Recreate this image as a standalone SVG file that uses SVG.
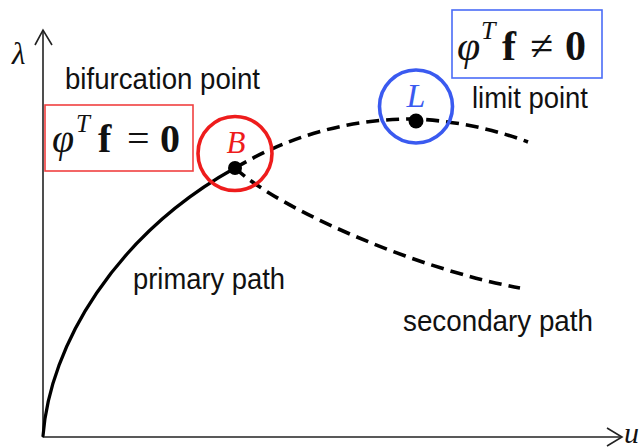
<svg xmlns="http://www.w3.org/2000/svg" width="643" height="448" viewBox="0 0 643 448">
<style>
.ax{fill:none;stroke:#222;stroke-width:1.6}
.lbl{font-family:"Liberation Sans",Arial,sans-serif;font-size:29px;fill:#111}
.math{font-family:"Liberation Serif","Times New Roman",serif;fill:#111}
.it{font-style:italic}
.bd{font-weight:bold}
.solid{fill:none;stroke:#000;stroke-width:3.2;stroke-linecap:round}
.dash{fill:none;stroke:#000;stroke-width:3.6;stroke-dasharray:13 7}
.dot{fill:#000}
</style>
<rect width="643" height="448" fill="#fff"/>
<g id="axes">
  <line class="ax" x1="43" y1="437" x2="43" y2="30"/>
  <polyline class="ax" points="35,45 43,30 52,45"/>
  <line class="ax" x1="43" y1="437" x2="622" y2="437"/>
  <polyline class="ax" points="607,428 622,437 607,446"/>
  <text class="math it" x="12" y="64" font-size="31">λ</text>
  <text class="math it" x="624" y="443" font-size="30">u</text>
</g>
<g id="connectors">
  <path class="solid" d="M43,436 C50,345 115,235 235,168"/>
  <path class="dash" d="M235,168 C280,210 420,270 520,288"/>
  <path class="dash" d="M235,168 Q320,118 416,119 Q475,122 528,142"/>
</g>
<g id="node-B">
  <circle cx="235" cy="153.5" r="37" fill="none" stroke="#ee1c1c" stroke-width="3.6"/>
  <circle class="dot" cx="235" cy="168" r="7"/>
  <text class="math it" x="236" y="153" font-size="31" style="fill:#ee1c1c" text-anchor="middle">B</text>
</g>
<g id="node-L">
  <circle cx="416" cy="106.5" r="36.5" fill="none" stroke="#3a5af0" stroke-width="3.6"/>
  <circle class="dot" cx="416" cy="121" r="7.5"/>
  <text class="math it" x="416" y="107" font-size="34" style="fill:#3a5af0" text-anchor="middle">L</text>
</g>
<g id="label-bifurcation">
  <text class="lbl" x="65" y="89" textLength="195" lengthAdjust="spacingAndGlyphs">bifurcation point</text>
</g>
<g id="label-limit">
  <text class="lbl" x="472" y="108" textLength="116" lengthAdjust="spacingAndGlyphs">limit point</text>
</g>
<g id="label-primary">
  <text class="lbl" x="133" y="289" textLength="152" lengthAdjust="spacingAndGlyphs">primary path</text>
</g>
<g id="label-secondary">
  <text class="lbl" x="403" y="331" textLength="190" lengthAdjust="spacingAndGlyphs">secondary path</text>
</g>
<g id="formula-eq">
  <rect x="45" y="105" width="148" height="66" fill="none" stroke="#f04040" stroke-width="1.6"/>
  <text class="math it" x="52" y="152" font-size="40">φ</text>
  <text class="math it" x="76" y="132" font-size="25">T</text>
  <text class="math bd" x="98" y="152" font-size="40">f</text>
  <text class="math" x="127" y="152" font-size="40">=</text>
  <text class="math bd" x="160" y="152" font-size="40">0</text>
</g>
<g id="formula-neq">
  <rect x="452" y="10" width="150" height="68" fill="none" stroke="#4a6cf7" stroke-width="1.6"/>
  <text class="math it" x="457" y="60" font-size="42">φ</text>
  <text class="math it" x="481" y="39" font-size="26">T</text>
  <text class="math bd" x="502" y="60" font-size="42">f</text>
  <text class="math" x="530" y="60" font-size="42">≠</text>
  <text class="math bd" x="565" y="60" font-size="42">0</text>
</g>
</svg>
